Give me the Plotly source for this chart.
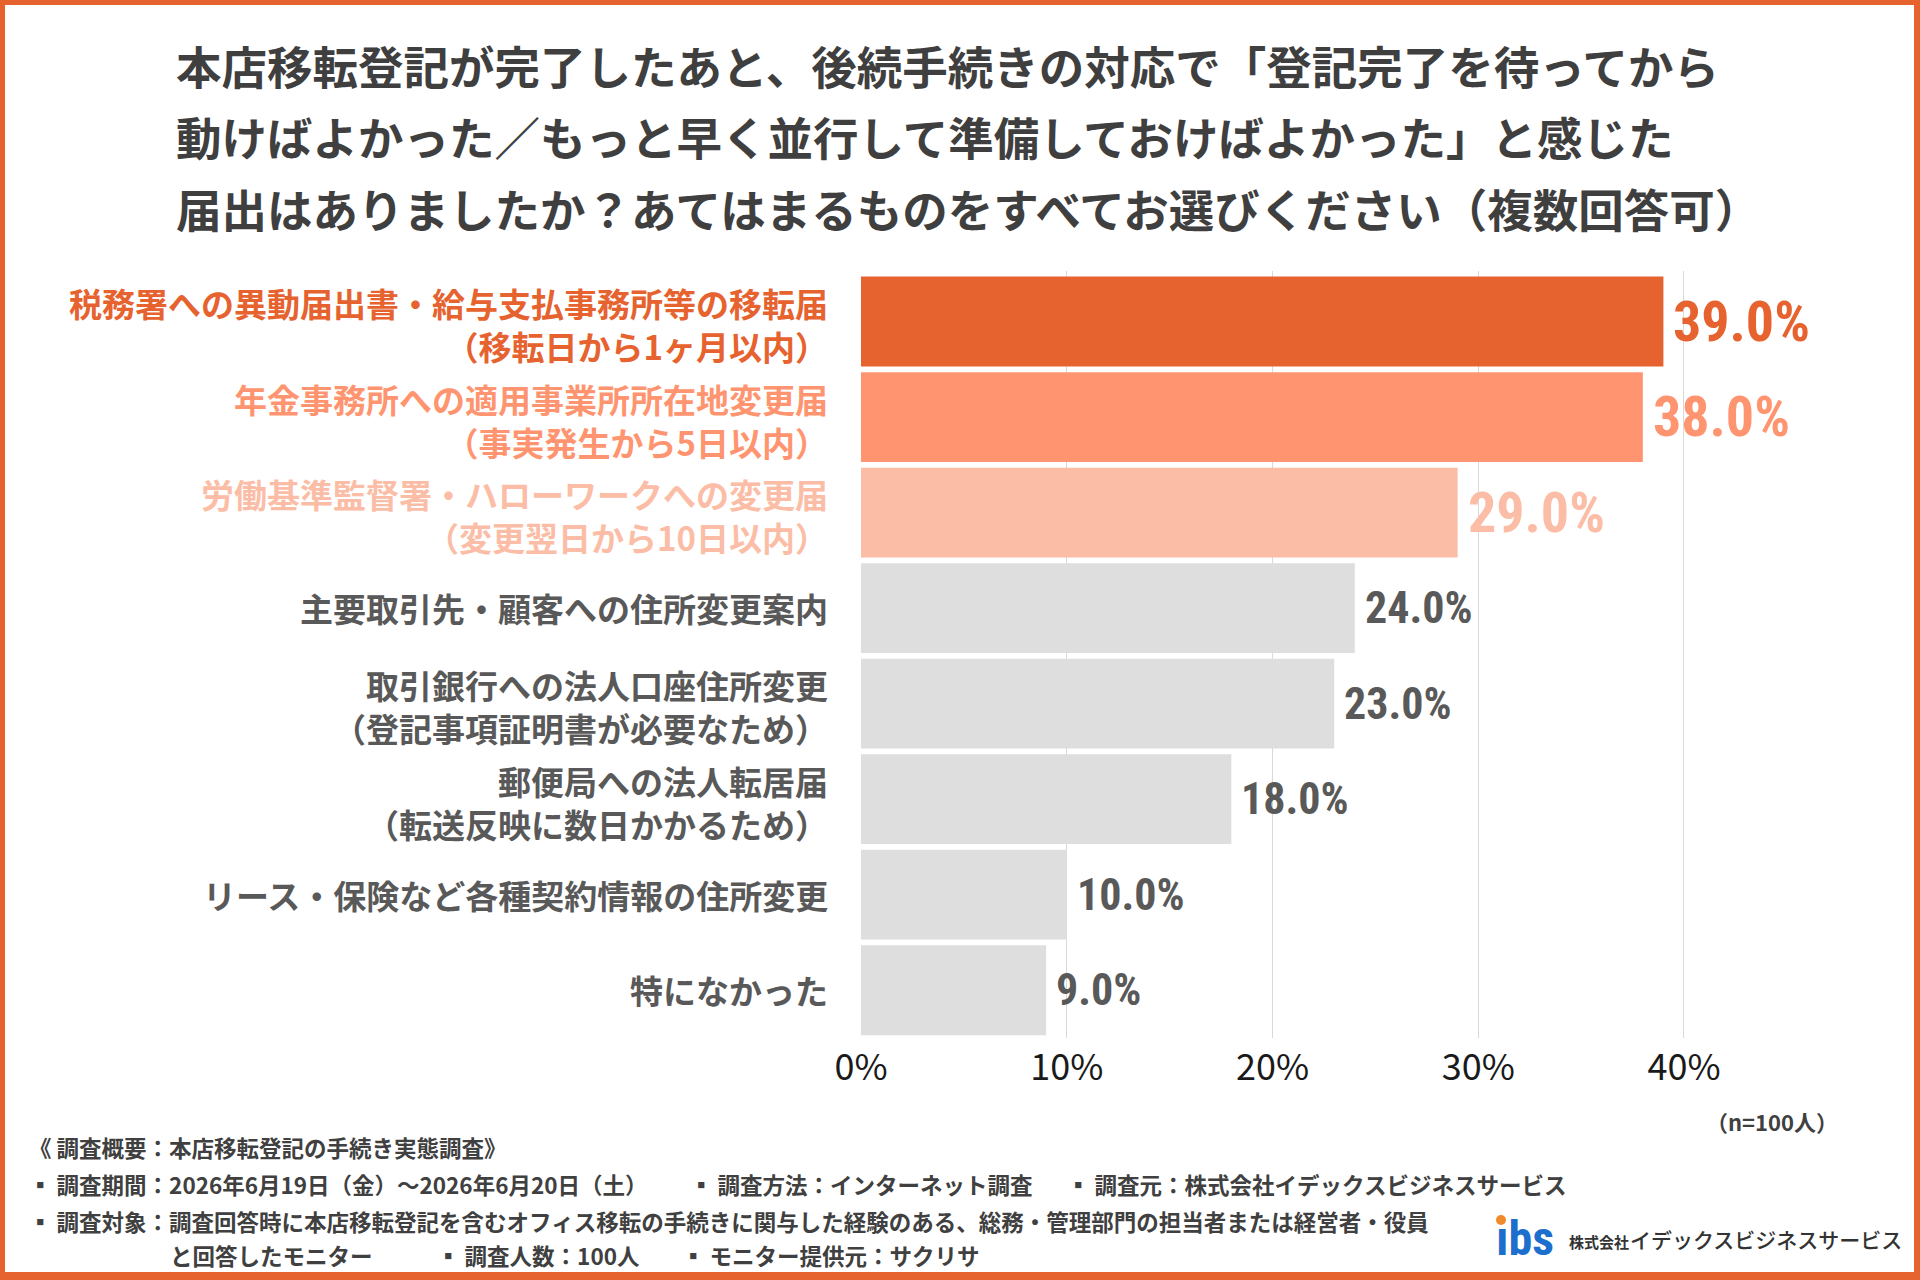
import plotly.graph_objects as go

# ---------------- data ----------------
categories = [
    "税務署への異動届出書・給与支払事務所等の移転届<br>（移転日から1ヶ月以内）",
    "年金事務所への適用事業所所在地変更届<br>（事実発生から5日以内）",
    "労働基準監督署・ハローワークへの変更届<br>（変更翌日から10日以内）",
    "主要取引先・顧客への住所変更案内",
    "取引銀行への法人口座住所変更<br>（登記事項証明書が必要なため）",
    "郵便局への法人転居届<br>（転送反映に数日かかるため）",
    "リース・保険など各種契約情報の住所変更",
    "特になかった",
]
values = [39.0, 38.0, 29.0, 24.0, 23.0, 18.0, 10.0, 9.0]
bar_colors = ["#E6632F", "#FF9570", "#FCBDA7", "#DEDEDE", "#DEDEDE", "#DEDEDE", "#DEDEDE", "#DEDEDE"]
label_colors = ["#E6632F", "#FF9570", "#FCBDA7", "#595959", "#595959", "#595959", "#595959", "#595959"]
value_sizes = [56, 56, 56, 44, 44, 44, 44, 44]
tick_vals = [0, 10, 20, 30, 40]
tick_text = ["0%", "10%", "20%", "30%", "40%"]

title_lines = [
    "本店移転登記が完了したあと、後続手続きの対応で「登記完了を待ってから",
    "動けばよかった／もっと早く並行して準備しておけばよかった」と感じた",
    "届出はありましたか？あてはまるものをすべてお選びください（複数回答可）",
]
footer_items = [
    ("《 調査概要：本店移転登記の手続き実態調査》", 27, 1147),
    ("▪ 調査期間：2026年6月19日（金）～2026年6月20日（土）", 27, 1184),
    ("▪ 調査方法：インターネット調査", 688, 1184),
    ("▪ 調査元：株式会社イデックスビジネスサービス", 1065, 1184),
    ("▪ 調査対象：調査回答時に本店移転登記を含むオフィス移転の手続きに関与した経験のある、総務・管理部門の担当者または経営者・役員", 27, 1221),
    ("と回答したモニター", 168, 1255),
    ("▪ 調査人数：100人", 435, 1255),
    ("▪ モニター提供元：サクリサ", 680, 1255),
]
n_note = "（n=100人）"
logo_text = "ıbs"
company = "株式会社"
company2 = "イデックスビジネスサービス"

# ---------------- layout geometry ----------------
W, H = 1920, 1280
L, R, T, B = 861, 92, 271, 242
PW, PH = W - L - R, H - T - B
XMAX = 47


def px(x):
    return (x - L) / PW


def py(y):
    return (H - B - y) / PH


JP = "Noto Sans CJK JP"
NUM = "Liberation Sans Narrow, Roboto Condensed, DejaVu Sans Condensed, Noto Sans CJK JP"
ORANGE = "#E6632F"

fig = go.Figure()
fig.add_trace(go.Bar(
    x=values,
    y=categories,
    orientation="h",
    marker=dict(color=bar_colors, line=dict(width=0)),
    hoverinfo="skip",
))

ann = []
# title
for i, line in enumerate(title_lines):
    ann.append(dict(text=line, xref="paper", yref="paper", x=px(174), y=py(65 + i * 71.5),
                    xanchor="left", yanchor="middle", showarrow=False,
                    font=dict(family=JP, size=45.5, color="#3F3F3F", weight=700)))
# category labels
for c, col in zip(categories, label_colors):
    two = "<br>" in c
    ann.append(dict(text=c, xref="paper", yref="y", x=0, y=c, xshift=-31,
                    yshift=-3 if two else 0,
                    xanchor="right", yanchor="middle", align="right", showarrow=False,
                    font=dict(family=JP, size=33, color=col, weight=700)))
# value labels
for c, v, col, s in zip(categories, values, label_colors, value_sizes):
    ann.append(dict(text=f"{v:.1f}%", xref="x", yref="y", x=v, y=c, xshift=8,
                    xanchor="left", yanchor="middle", showarrow=False,
                    font=dict(family=NUM, size=s, color=col, weight=700)))
# n note
ann.append(dict(text=n_note, xref="paper", yref="paper", x=px(1840), y=py(1121),
                xanchor="right", yanchor="middle", showarrow=False,
                font=dict(family=JP, size=22, color="#404040", weight=700)))
# footer
for t, x0, y0 in footer_items:
    ann.append(dict(text=t, xref="paper", yref="paper", x=px(x0), y=py(y0),
                    xanchor="left", yanchor="middle", showarrow=False,
                    font=dict(family=JP, size=22.5, color="#404040", weight=700)))
# logo
ann.append(dict(text=logo_text, xref="paper", yref="paper", x=px(1494), y=py(1238),
                xanchor="left", yanchor="middle", showarrow=False,
                font=dict(family="Liberation Sans Narrow, Roboto Condensed, DejaVu Sans Condensed",
                          size=48, color="#1C6FCC", weight=700)))
ann.append(dict(text=company, xref="paper", yref="paper", x=px(1567), y=py(1241),
                xanchor="left", yanchor="middle", showarrow=False,
                font=dict(family=JP, size=15, color="#333333", weight=700)))
ann.append(dict(text=company2, xref="paper", yref="paper", x=px(1628), y=py(1239),
                xanchor="left", yanchor="middle", showarrow=False,
                font=dict(family=JP, size=21, color="#333333", weight=500)))

# border
shapes = []
for (x0, y0, x1, y1) in [(0, 0, W, 5), (0, 1272, W, H), (0, 0, 5, H), (1914, 0, W, H)]:
    shapes.append(dict(type="rect", xref="paper", yref="paper",
                       x0=px(x0), x1=px(x1), y0=py(y1), y1=py(y0),
                       fillcolor=ORANGE, line=dict(width=0), layer="above"))
# orange dot of logo
shapes.append(dict(type="circle", xref="paper", yref="paper",
                   x0=px(1496), x1=px(1506), y0=py(1225), y1=py(1215),
                   fillcolor="#F08A2B", line=dict(width=0), layer="above"))

fig.update_layout(
    width=W, height=H,
    margin=dict(l=L, r=R, t=T, b=B, pad=0),
    paper_bgcolor="white", plot_bgcolor="white",
    showlegend=False,
    bargap=0.06,
    xaxis=dict(range=[0, XMAX], tickvals=tick_vals, ticktext=tick_text,
               showgrid=True, gridcolor="#D9D9D9", gridwidth=1, zeroline=False,
               showline=False, ticks="", ticklabelstandoff=5,
               tickfont=dict(family=JP, size=36, color="#1A1A1A"), fixedrange=True),
    yaxis=dict(autorange="reversed", showticklabels=False, showgrid=False,
               zeroline=False, showline=False, ticks="", fixedrange=True),
    annotations=ann,
    shapes=shapes,
)

fig.write_html("out.html")
